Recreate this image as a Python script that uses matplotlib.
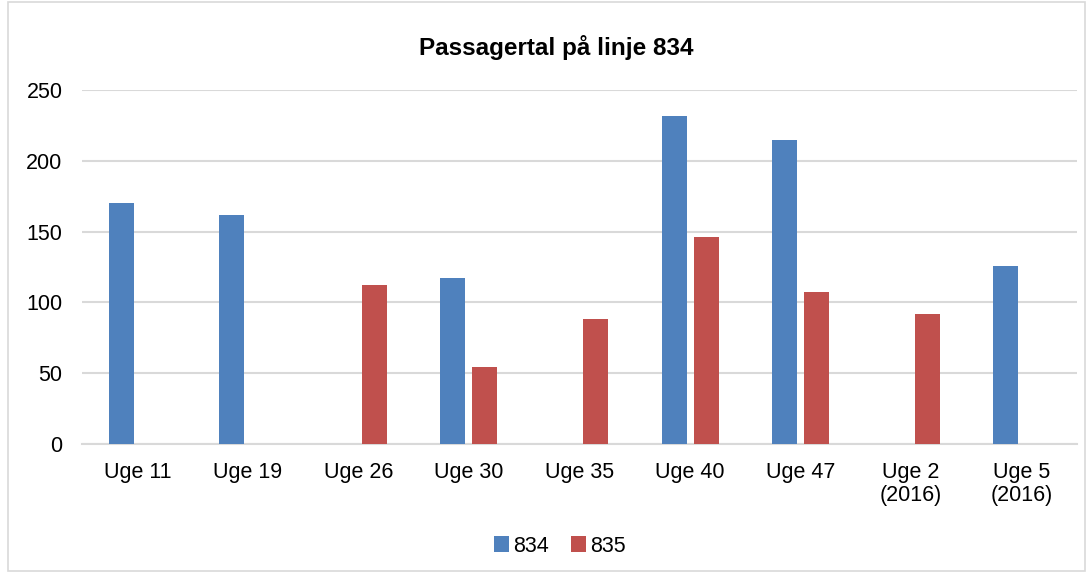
import matplotlib
matplotlib.use("Agg")
import matplotlib.pyplot as plt
import numpy as np
from matplotlib.patches import Rectangle

categories = ["Uge 11", "Uge 19", "Uge 26", "Uge 30", "Uge 35", "Uge 40", "Uge 47", "Uge 2\n(2016)", "Uge 5\n(2016)"]
s834 = [170, 162, 0, 117, 0, 232, 215, 0, 126]
s835 = [0, 0, 112, 54, 88, 146, 107, 92, 0]
yticks = [0, 50, 100, 150, 200, 250]

plt.rcParams['font.family'] = ['Liberation Sans', 'DejaVu Sans']

fig = plt.figure(figsize=(10.89, 5.73), dpi=100)
ax = fig.add_axes([82/1089, 1 - 443.7/573, (1077-82)/1089, (443.7-90.3)/573])

x = np.arange(len(categories))
w = 0.226
off = 0.145
c834 = "#4F81BD"
c835 = "#C0504D"
ax.bar(x - off, s834, width=w, color=c834, label="834", zorder=3)
ax.bar(x + off, s835, width=w, color=c835, label="835", zorder=3)

ax.set_xlim(-0.5, len(categories) - 0.5)
ax.set_ylim(0, 250)
ax.set_yticks(yticks)
ax.set_xticks(x)
ax.set_xticklabels(categories, fontsize=15.5, linespacing=1.15)
ax.tick_params(axis='y', labelsize=15.5, length=0, pad=14)
ax.tick_params(axis='x', length=0, pad=13)
ax.grid(axis='y', color='#D9D9D9', linewidth=1.5, zorder=0)
for s in ['top', 'right', 'left']:
    ax.spines[s].set_visible(False)
ax.spines['bottom'].set_color('#D9D9D9')
ax.spines['bottom'].set_linewidth(1.5)

fig.text(556/1089, 1 - 47/573, "Passagertal på linje 834", ha='center', va='center',
         fontsize=17.5, fontweight='bold')

leg = fig.legend(loc='center', bbox_to_anchor=(560/1089, 1 - 546/573), ncol=2, frameon=False,
                 fontsize=15.5, handlelength=0.7, handleheight=0.7, handletextpad=0.2, columnspacing=1.0)

fig.patches.append(Rectangle((8/1089, 2/573), (1085-8)/1089, (571-2)/573, transform=fig.transFigure,
                             fill=False, edgecolor='#D9D9D9', linewidth=1.2))

fig.savefig("out.png", dpi=100)
